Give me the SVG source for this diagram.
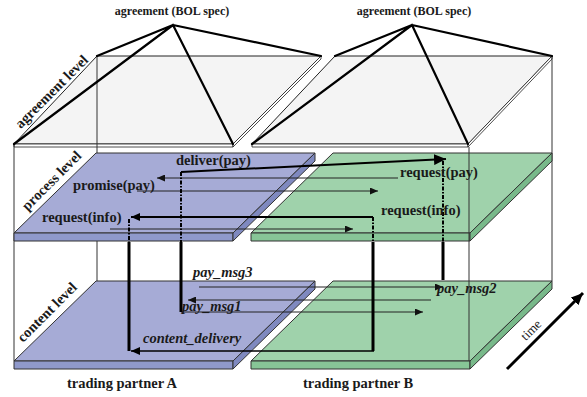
<svg xmlns="http://www.w3.org/2000/svg" width="587" height="397" viewBox="0 0 587 397">
<defs>
<marker id="as" markerUnits="userSpaceOnUse" markerWidth="9" markerHeight="7" refX="8" refY="3.5" orient="auto"><path d="M0,0 L8,3.5 L0,7 z" fill="#111"/></marker>
<marker id="am" markerUnits="userSpaceOnUse" markerWidth="10" markerHeight="8" refX="9" refY="4" orient="auto"><path d="M0,0 L9,4 L0,8 z" fill="#000"/></marker>
<marker id="al" markerUnits="userSpaceOnUse" markerWidth="13" markerHeight="11" refX="12" refY="5.5" orient="auto"><path d="M0,0 L12,5.5 L0,11 z" fill="#000"/></marker>
</defs>
<style>
.face{fill:#f4f4f4;stroke:#222;stroke-width:1}
.edge{fill:#fff;stroke:#222;stroke-width:0.8}
.roof{stroke:#000;stroke-width:2.2;fill:none;stroke-linecap:round}
.frame{stroke:#333;stroke-width:1;fill:none}
.btop{fill:#a6abd6;stroke:#333;stroke-width:1}
.bfront{fill:#8f99cb;stroke:#333;stroke-width:1}
.bside{fill:#7f89bf;stroke:#333;stroke-width:1}
.gtop{fill:#9fd2ab;stroke:#333;stroke-width:1}
.gfront{fill:#87c597;stroke:#333;stroke-width:1}
.gside{fill:#78b98a;stroke:#333;stroke-width:1}
.lbl{font-family:"Liberation Serif","Times New Roman",serif;font-weight:bold;font-size:14.5px;fill:#1a1a1a}
.hdr{font-size:12px;text-anchor:middle}
.it{font-style:italic}
.thin{stroke:#222;stroke-width:1;fill:none}
.thick{stroke:#000;stroke-width:2;fill:none}
.mid{stroke:#000;stroke-width:1.7;fill:none}
.vert{stroke:#000;stroke-width:3;fill:none}
.dash{stroke:#000;stroke-width:2;stroke-dasharray:4 1.5 1.5 1.5;fill:none}
</style>

<g id="agreement-A">
<polygon class="face" points="14,144 233,144 321,56 97,56"/>
<polygon class="edge" points="14,144 233,144 233,147 14,147"/>
<polygon class="edge" points="233,144 321,56 321,59 233,147"/>
</g>
<g id="agreement-B">
<polygon class="face" points="252,144 468,144 552,56 335,56"/>
<polygon class="edge" points="252,144 468,144 468,147 252,147"/>
<polygon class="edge" points="468,144 552,56 552,59 468,147"/>
</g>

<g id="frame">
<line class="frame" x1="97" y1="56" x2="97" y2="281"/>
<line class="frame" x1="552" y1="56" x2="552" y2="281"/>
<line class="frame" x1="14" y1="144" x2="14" y2="361"/>
</g>

<g id="roof-A">
<path class="roof" d="M173,25 L14,144 M173,25 L233,144 M173,25 L97,56 M173,25 L321,56"/>
</g>
<g id="roof-B">
<path class="roof" d="M412,25 L252,144 M412,25 L468,144 M412,25 L335,56 M412,25 L552,56"/>
</g>

<g id="process-A">
<polygon class="btop" points="14,233 233,233 315,153 96,153"/>
<polygon class="bfront" points="14,233 233,233 233,241 14,241"/>
<polygon class="bside" points="233,233 315,153 315,161 233,241"/>
</g>
<g id="process-B">
<polygon class="gtop" points="251,233 470,233 552,153 333,153"/>
<polygon class="gfront" points="251,233 470,233 470,241 251,241"/>
<polygon class="gside" points="470,233 552,153 552,161 470,241"/>
</g>
<g id="content-A">
<polygon class="btop" points="14,361 233,361 315,281 96,281"/>
<polygon class="bfront" points="14,361 233,361 233,369 14,369"/>
<polygon class="bside" points="233,361 315,281 315,289 233,369"/>
</g>
<g id="content-B">
<polygon class="gtop" points="251,361 470,361 552,281 333,281"/>
<polygon class="gfront" points="251,361 470,361 470,369 251,369"/>
<polygon class="gside" points="470,361 552,281 552,289 470,369"/>
</g>

<g id="frame-front">
<line class="frame" x1="469" y1="147" x2="469" y2="361"/>
</g>

<g id="connectors">
<path class="thin" d="M398,178 L157,178" marker-end="url(#as)"/>
<path class="thin" d="M137,191 L378,191" marker-end="url(#as)"/>
<path class="thin" d="M110,229 L353,229" marker-end="url(#as)"/>
<path class="thin" d="M199,287 L443,287" marker-end="url(#as)"/>
<path class="thin" d="M431,300 L188,300" marker-end="url(#as)"/>
<path class="thin" d="M181,312 L423,312" marker-end="url(#as)"/>

<path class="thick" d="M181,172 L446,159" marker-end="url(#al)"/>
<path class="dash" d="M181,172 L181,242"/>
<path class="vert" d="M181,242 L181,312"/>
<path class="dash" d="M443,161 L443,242"/>
<path class="vert" d="M443,242 L443,280"/>

<path class="thick" d="M373,217 L131,217" marker-end="url(#am)"/>
<path class="dash" d="M373,217 L373,242"/>
<path class="vert" d="M373,242 L373,351"/>
<path class="mid" d="M374,351 L131,351" marker-end="url(#am)"/>
<path class="dash" d="M129,219 L129,242"/>
<path class="vert" d="M129,242 L129,351"/>

<path d="M507,369 L583,293" stroke="#000" stroke-width="3" fill="none" marker-end="url(#al)"/>
</g>

<g id="labels">
<text class="lbl hdr" x="172" y="15">agreement (BOL spec)</text>
<text class="lbl hdr" x="414" y="15">agreement (BOL spec)</text>
<text class="lbl" text-anchor="middle" transform="translate(55,95) rotate(-45)">agreement level</text>
<text class="lbl" text-anchor="middle" transform="translate(55,184) rotate(-45)">process level</text>
<text class="lbl" text-anchor="middle" transform="translate(50.5,315.5) rotate(-45)">content level</text>
<text class="lbl" x="176" y="165">deliver(pay)</text>
<text class="lbl" x="73" y="190">promise(pay)</text>
<text class="lbl" x="42" y="222">request(info)</text>
<text class="lbl" x="400" y="177">request(pay)</text>
<text class="lbl" x="381" y="215">request(info)</text>
<text class="lbl it" x="193" y="277">pay_msg3</text>
<text class="lbl it" x="182" y="311">pay_msg1</text>
<text class="lbl it" x="143" y="343">content_delivery</text>
<text class="lbl it" x="437" y="293">pay_msg2</text>
<text class="lbl" x="67" y="388">trading partner A</text>
<text class="lbl" x="303" y="388">trading partner B</text>
<text font-family="Liberation Serif, Times New Roman, serif" font-size="13" text-anchor="middle" fill="#1a1a1a" transform="translate(534,333) rotate(-45)">time</text>
</g>
</svg>
